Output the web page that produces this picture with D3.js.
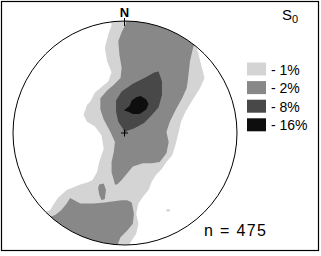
<!DOCTYPE html>
<html lang="en">
<head>
<meta charset="utf-8">
<script src="https://d3js.org/d3.v7.min.js"></script>
<style>
  body { margin: 0; background: #fff; }
  svg text { font-family: "Liberation Sans", Arial, sans-serif; fill: #000; }
</style>
</head>
<body>
<svg width="321" height="256"></svg>
<script>
// contour levels (density % per 1% area) and legend labels
var levels = ["1", "2", "8", "16"];
var legendLabels = ["- 1%", "- 2%", "- 8%", "- 16%"];
var sampleCount = 475;
var setName = "S";
var setIndex = "0";

// contour polygons in stereonet units (percent of primitive radius, north up)
var band1Main = [[-13,105],[-12,96],[-15,88],[-18,76],[-16,64],[-12,54],[-15,46],[-21,41],[-27,36],[-31,28],
  [-34,25],[-37,16],[-34,10],[-27,6],[-21,-2],[-19,-14],[-23,-26],[-25,-35],[-29,-42],[-33,-44],[-40,-46],
  [-52,-51],[-60,-58],[-67,-69],[-80,-73],[-85,-104],[2,-115],[4,-99],[10,-90],[12,-81],[10,-72],[12,-63],
  [16,-57],[21,-51],[24,-43],[28,-37],[33,-32],[37,-26],[42,-20],[45,-11],[48,1],[50,10],[54,19],[60,29],
  [67,40],[71,49],[68,61],[65,73],[63,79],[71,92],[49,114],[-6,114]];
var band1Speck = [[37,-68],[40,-68],[40,-70],[37,-70]];
var band2Main = [[-1,105],[1,98],[-3,90],[-6,82],[-5,70],[-3,58],[-4,49],[-10,43],[-16,38],[-22,31],[-22,21],
  [-19,12],[-13,1],[-9,-8],[-10,-17],[-12,-26],[-12,-35],[-10,-42],[-9,-46],[-7,-46],[-3,-42],[2,-36],[7,-30],
  [16,-27],[24,-27],[31,-26],[37,-18],[39,-8],[37,1],[40,10],[46,22],[51,31],[55,40],[56,46],[58,64],[61,77],
  [67,83],[58,110]];
var band2Blob = [[-23,-46],[-19,-45],[-17,-51],[-18,-59],[-21,-60],[-23,-55],[-24,-49]];
var band2South = [[-67,-75],[-62,-73],[-57,-69],[-52,-63],[-49,-58],[-40,-63],[-28,-63],[-18,-62],[-10,-61],
  [-3,-60],[2,-60],[6,-62],[8,-72],[7,-81],[2,-87],[-4,-93],[-6,-98],[-6,-113],[-85,-113],[-85,-82]];
var band8Core = [[30,55],[33,46],[33,34],[30,23],[24,16],[17,9],[8,4],[2,2],[0,0],[-2,4],[-6,10],[-8,19],
  [-8,29],[-3,37],[7,44],[19,50],[26,54]];
var band16Core = [[-1,20],[4,24],[6,29],[10,32],[14,33],[19,30],[21,26],[19,21],[13,17],[7,17],[3,19]];

var shapes = [
  {level: "1", pts: band1Main}, {level: "1", pts: band1Speck},
  {level: "2", pts: band2Main}, {level: "2", pts: band2Blob}, {level: "2", pts: band2South},
  {level: "8", pts: band8Core}, {level: "16", pts: band16Core}
];

var svg = d3.select("svg");
var cx = 125, cy = 133, R = 112;

var x = d3.scaleLinear().domain([-100, 100]).range([cx - R, cx + R]);
var y = d3.scaleLinear().domain([-100, 100]).range([cy + R, cy - R]);
var fill = d3.scaleOrdinal().domain(levels).range(["#d4d4d4", "#888888", "#484848", "#0e0e0e"]);

// frame
svg.append("rect").attr("x", 1.5).attr("y", 1.5).attr("width", 317).attr("height", 249)
  .attr("fill", "none").attr("stroke", "#000").attr("stroke-width", 1.2);

svg.append("clipPath").attr("id", "net")
  .append("circle").attr("cx", x(0)).attr("cy", y(0)).attr("r", x(100) - x(0));

var line = d3.line().x(function(d) { return x(d[0]); }).y(function(d) { return y(d[1]); })
  .curve(d3.curveLinearClosed);

svg.append("g").attr("clip-path", "url(#net)")
  .selectAll("path").data(shapes).enter().append("path")
  .attr("d", function(d) { return line(d.pts); })
  .attr("fill", function(d) { return fill(d.level); });

// primitive circle
svg.append("circle").attr("cx", x(0)).attr("cy", y(0)).attr("r", x(100) - x(0))
  .attr("fill", "none").attr("stroke", "#000").attr("stroke-width", 1);

// north tick and label
svg.append("line").attr("x1", x(0) - 0.5).attr("x2", x(0) - 0.5).attr("y1", y(100) - 3).attr("y2", y(100) + 5)
  .attr("stroke", "#000").attr("stroke-width", 1);
svg.append("text").attr("x", x(0) - 0.5).attr("y", 17).attr("text-anchor", "middle")
  .attr("font-size", 13).attr("font-weight", "bold").text("N");

// centre cross
var c = 3.5;
svg.append("path")
  .attr("d", "M" + (x(0) - c) + "," + y(0) + "H" + (x(0) + c) + "M" + x(0) + "," + (y(0) - c) + "V" + (y(0) + c))
  .attr("stroke", "#000").attr("stroke-width", 1).attr("transform", "translate(-0.5,0)");

// title
var t = svg.append("text").attr("x", 282).attr("y", 20).attr("font-size", 15);
t.append("tspan").text(setName);
t.append("tspan").attr("font-size", 11).attr("dy", 3).text(setIndex);

// legend
var lg = svg.append("g").selectAll("g").data(levels).enter().append("g")
  .attr("transform", function(d, i) { return "translate(247," + (62.5 + i * 18.6) + ")"; });
lg.append("rect").attr("width", 19).attr("height", 13).attr("fill", function(d) { return fill(d); });
lg.append("text").attr("x", 24).attr("y", 12).attr("font-size", 14)
  .text(function(d, i) { return legendLabels[i]; });

svg.append("text").attr("x", 204).attr("y", 235.5).attr("font-size", 16)
  .attr("textLength", 62).attr("lengthAdjust", "spacing")
  .text("n = " + sampleCount);
</script>
</body>
</html>
